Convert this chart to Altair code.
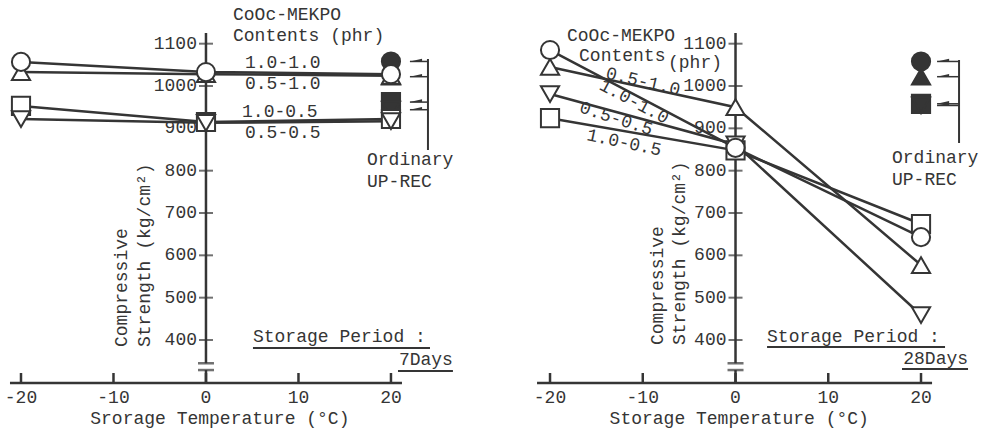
import altair as alt
import pandas as pd

# ---------------- data ----------------
TEMPS = [-20, 0, 20]
# drawing order: later series are drawn on top
SERIES = ["1.0-0.5", "0.5-0.5", "0.5-1.0", "1.0-1.0"]
SHAPES = ["square", "triangle-down", "triangle-up", "circle"]

# storage period 7 days (values at -20, 0, 20 degC)
D7_10_05 = [953, 915, 922]
D7_05_05 = [922, 913, 917]
D7_05_10 = [1033, 1028, 1024]
D7_10_10 = [1057, 1033, 1028]
ORD_7 = [962, 944, 1022, 1058]      # ordinary UP-REC at 20 degC

# storage period 28 days
D28_10_05 = [924, 848, 674]
D28_05_05 = [981, 862, 459]
D28_05_10 = [1045, 950, 577]
D28_10_10 = [1085, 854, 643]
ORD_28 = [958, 954, 1022, 1058]

Y_TICKS = [400, 500, 600, 700, 800, 900, 1000, 1100]
X_TICKS = [-20, -10, 0, 10, 20]

# ---------------- style ----------------
INK = "#353535"
FONT = "Liberation Mono"
FS = 18
Y_DOM = [185.0, 1203.2]
Y_BASE = 298.4
Y_TOP = 1125
Y_TICK_TOP = 322
BREAKS = [345, 329]


def build(values, ordinary, xdom, width, ax_x, left_txt, right_txt, center_txt,
          rot_txt, ytitle, underlines, bracket):
    xs = alt.Scale(domain=xdom, nice=False, zero=False)
    ys = alt.Scale(domain=Y_DOM, nice=False, zero=False)

    def X(f):
        return alt.X(f, type="quantitative", scale=xs, axis=None)

    def Y(f):
        return alt.Y(f, type="quantitative", scale=ys, axis=None)

    rows = [{"t": t, "v": v, "s": s, "o": i}
            for s, vals in zip(SERIES, values)
            for i, (t, v) in enumerate(zip(TEMPS, vals))]
    df = pd.DataFrame(rows)
    dord = pd.DataFrame({"t": [20] * 4, "v": ordinary, "s": SERIES})
    shape = alt.Shape("s:N", scale=alt.Scale(domain=SERIES, range=SHAPES), legend=None)

    layers = []
    # axes
    yax = pd.DataFrame({"x": [0, 0], "y": [Y_TOP, BREAKS[1]], "y2": [BREAKS[0], Y_BASE]})
    layers.append(alt.Chart(yax).mark_rule(color=INK, strokeWidth=2.5).encode(
        x=X("x"), y=Y("y"), y2="y2"))
    xax = pd.DataFrame({"x": [ax_x[0]], "x2": [ax_x[1]], "y": [Y_BASE]})
    layers.append(alt.Chart(xax).mark_rule(color=INK, strokeWidth=2.5).encode(
        x=X("x"), x2="x2", y=Y("y")))
    yt = pd.DataFrame({"x": [0] * len(Y_TICKS), "y": Y_TICKS, "lab": [str(v) for v in Y_TICKS]})
    layers.append(alt.Chart(yt).mark_tick(orient="horizontal", color=INK, size=14,
                                          thickness=2).encode(x=X("x"), y=Y("y")))
    layers.append(alt.Chart(yt).mark_text(align="right", baseline="middle", dx=-9,
                                          font=FONT, fontSize=FS, color=INK).encode(
        x=X("x"), y=Y("y"), text="lab:N"))
    br = pd.DataFrame({"x": [0, 0], "y": BREAKS})
    layers.append(alt.Chart(br).mark_tick(orient="horizontal", color=INK, size=16,
                                          thickness=2.5).encode(x=X("x"), y=Y("y")))
    xt = pd.DataFrame({"x": X_TICKS, "y": [Y_BASE] * 5, "y2": [Y_TICK_TOP] * 5,
                       "lab": [str(v) for v in X_TICKS]})
    layers.append(alt.Chart(xt).mark_rule(color=INK, strokeWidth=2.5).encode(
        x=X("x"), y=Y("y"), y2="y2"))
    layers.append(alt.Chart(xt).mark_text(align="center", baseline="top", dy=6,
                                          font=FONT, fontSize=FS, color=INK).encode(
        x=X("x"), y=Y("y"), text="lab:N"))

    # bracket + arrows for ordinary UP-REC
    bx, by0, by1, ax0, axc = bracket
    bdf = pd.DataFrame({"x": [bx], "y": [by0], "y2": [by1]})
    layers.append(alt.Chart(bdf).mark_rule(color=INK, strokeWidth=2).encode(
        x=X("x"), y=Y("y"), y2="y2"))
    arrow_y = sorted(ordinary)
    adf = pd.DataFrame({"x": [ax0] * 4, "x2": [bx] * 4, "y": arrow_y, "xc": [axc] * 4})
    layers.append(alt.Chart(adf).mark_rule(color=INK, strokeWidth=1.5).encode(
        x=X("x"), x2="x2", y=Y("y")))
    layers.append(alt.Chart(adf).mark_point(shape="M -1 0 L 1 -0.45 L 1 0 Z", filled=True,
                                            color=INK, size=150, opacity=1).encode(
        x=X("xc"), y=Y("y")))

    # ordinary (filled) markers
    layers.append(alt.Chart(dord).mark_point(filled=True, fill=INK, stroke=INK,
                                             strokeWidth=2, size=330, opacity=1).encode(
        x=X("t"), y=Y("v"), shape=shape))
    # lines
    layers.append(alt.Chart(df).mark_line(color=INK, strokeWidth=2.5).encode(
        x=X("t"), y=Y("v"), detail="s:N", order="o:Q"))
    # open markers
    layers.append(alt.Chart(df).mark_point(filled=True, fill="white", stroke=INK,
                                           strokeWidth=2, size=330, opacity=1).encode(
        x=X("t"), y=Y("v"), shape=shape))

    # underlines
    udf = pd.DataFrame(underlines, columns=["x", "x2", "y"])
    layers.append(alt.Chart(udf).mark_rule(color=INK, strokeWidth=1.8).encode(
        x=X("x"), x2="x2", y=Y("y")))

    # texts
    for txt, al in ((left_txt, "left"), (right_txt, "right"), (center_txt, "center")):
        tdf = pd.DataFrame(txt, columns=["lab", "x", "y"])
        layers.append(alt.Chart(tdf).mark_text(align=al, baseline="middle", font=FONT,
                                               fontSize=FS, color=INK).encode(
            x=X("x"), y=Y("y"), text="lab:N"))
    if rot_txt:
        rdf = pd.DataFrame(rot_txt, columns=["lab", "x", "y", "a"])
        layers.append(alt.Chart(rdf).mark_text(align="center", baseline="middle", font=FONT,
                                               fontSize=FS, color=INK).encode(
            x=X("x"), y=Y("y"), text="lab:N", angle=alt.Angle("a:Q", scale=None)))
    tdf = pd.DataFrame(ytitle, columns=["lab", "x", "y"])
    layers.append(alt.Chart(tdf).mark_text(align="left", baseline="middle", angle=270,
                                           font=FONT, fontSize=FS, color=INK).encode(
        x=X("x"), y=Y("y"), text="lab:N"))

    return alt.layer(*layers).properties(width=width, height=431)


left = build(
    [D7_10_05, D7_05_05, D7_05_10, D7_10_10], ORD_7,
    [-22.27, 31.14], 494, [-21.19, 21.19],
    [("CoOc-MEKPO", 2.92, 1167), ("Contents (phr)", 2.92, 1119),
     ("1.0-1.0", 4.22, 1054), ("0.5-1.0", 4.22, 1004.7),
     ("1.0-0.5", 3.9, 938.6), ("0.5-0.5", 4.22, 889),
     ("Storage Period :", 5.08, 407), ("Ordinary", 17.41, 825.2), ("UP-REC", 17.41, 773.2)],
    [("7Days", 26.7, 352.7)],
    [("Srorage Temperature (°C)", 1.5, 213.3)],
    None,
    [("Compressive", -9.08, 383.4), ("Strength (kg/cm²)", -6.59, 383.4)],
    [(5.08, 24.22, 381.1), (20.76, 26.7, 326.7)],
    (24.0, 1063.8, 848.8, 22.05, 22.70),
)

right = build(
    [D28_10_05, D28_05_05, D28_05_10, D28_10_10], ORD_28,
    [-26.04, 27.33], 495, [-21.40, 21.19],
    [("CoOc-MEKPO", -18.17, 1119), ("Contents", -16.87, 1072), ("(phr)", -7.28, 1054.4),
     ("Storage Period :", 3.40, 407), ("Ordinary", 16.87, 829.9), ("UP-REC", 16.87, 778)],
    [("28Days", 25.07, 355)],
    [("Storage Temperature (°C)", 0.4, 213.3)],
    [("0.5-1.0", -9.97, 1009.5, 13), ("1.0-1.0", -10.94, 962.2, 28),
     ("0.5-0.5", -12.88, 922.1, 18), ("1.0-0.5", -12.02, 865.4, 12)],
    [("Compressive", -8.36, 388.2), ("Strength (kg/cm²)", -5.98, 388.2)],
    [(3.40, 22.59, 383.4), (17.95, 25.07, 331.5)],
    (24.10, 1061.4, 865.4, 21.73, 22.37),
)

chart = alt.hconcat(left, right, spacing=0, bounds="flush").properties(
    padding=0, background="white"
).configure_view(stroke=None)

chart.save("out.html", embed_options={"renderer": "svg", "actions": False})
